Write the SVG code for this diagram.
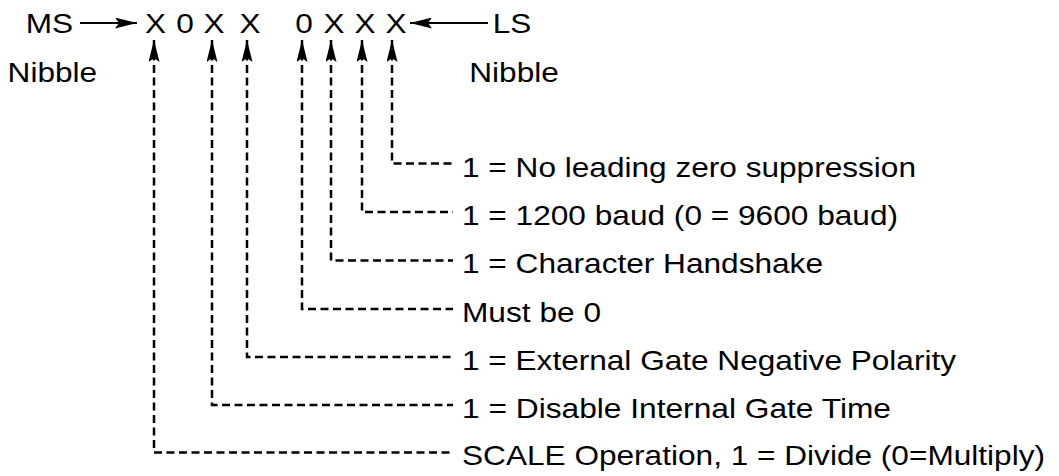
<svg xmlns="http://www.w3.org/2000/svg" width="1059" height="476" viewBox="0 0 1059 476">
<style>
text{font-family:"Liberation Sans",Arial,sans-serif;font-size:27.5px;fill:#000}
.bit{text-anchor:middle}
.solid{stroke:#000;stroke-width:2;fill:none}
.dash{stroke:#000;stroke-width:2.5;fill:none;stroke-dasharray:8 4.5}
</style>
<defs>
<marker id="ah" viewBox="0 0 22 11" refX="22" refY="5.5" markerWidth="22" markerHeight="11" markerUnits="userSpaceOnUse" orient="auto-start-reverse">
<path d="M0,0 L22,5.5 L0,11 L4,5.5 Z" fill="#000"/>
</marker>
</defs>
<rect width="1059" height="476" fill="#fff"/>
<g id="ms"><text x="25.7" y="33" textLength="47.4" lengthAdjust="spacingAndGlyphs">MS</text><text x="7.6" y="82" textLength="89.5" lengthAdjust="spacingAndGlyphs">Nibble</text></g>
<g id="ls"><text x="492.7" y="33" textLength="38.6" lengthAdjust="spacingAndGlyphs">LS</text><text x="469.3" y="82" textLength="89.5" lengthAdjust="spacingAndGlyphs">Nibble</text></g>
<g id="bits">
<text class="bit" x="155.5" y="33" textLength="21" lengthAdjust="spacingAndGlyphs">X</text>
<text class="bit" x="185" y="33" textLength="17.6" lengthAdjust="spacingAndGlyphs">0</text>
<text class="bit" x="214" y="33" textLength="21" lengthAdjust="spacingAndGlyphs">X</text>
<text class="bit" x="250" y="33" textLength="21" lengthAdjust="spacingAndGlyphs">X</text>
<text class="bit" x="304" y="33" textLength="17.6" lengthAdjust="spacingAndGlyphs">0</text>
<text class="bit" x="334" y="33" textLength="21" lengthAdjust="spacingAndGlyphs">X</text>
<text class="bit" x="365" y="33" textLength="21" lengthAdjust="spacingAndGlyphs">X</text>
<text class="bit" x="396" y="33" textLength="21" lengthAdjust="spacingAndGlyphs">X</text>
</g>
<g id="labels">
<text id="l1" x="462" y="176.5" textLength="454" lengthAdjust="spacingAndGlyphs">1 = No leading zero suppression</text>
<text id="l2" x="462" y="224.5" textLength="436" lengthAdjust="spacingAndGlyphs">1 = 1200 baud (0 = 9600 baud)</text>
<text id="l3" x="462" y="273" textLength="361" lengthAdjust="spacingAndGlyphs">1 = Character Handshake</text>
<text id="l4" x="462" y="321.5" textLength="139" lengthAdjust="spacingAndGlyphs">Must be 0</text>
<text id="l5" x="462" y="369.5" textLength="494" lengthAdjust="spacingAndGlyphs">1 = External Gate Negative Polarity</text>
<text id="l6" x="462" y="417.5" textLength="429" lengthAdjust="spacingAndGlyphs">1 = Disable Internal Gate Time</text>
<text id="l7" x="462" y="465" textLength="583" lengthAdjust="spacingAndGlyphs">SCALE Operation, 1 = Divide (0=Multiply)</text>
</g>
<g id="connectors">
<line class="solid" x1="80" y1="23" x2="137" y2="23" marker-end="url(#ah)"/>
<line class="solid" x1="488" y1="23" x2="410" y2="23" marker-end="url(#ah)"/>
<path class="dash" d="M392,40 V163.5 H453" marker-start="url(#ah)"/>
<path class="dash" d="M362,40 V212 H453" marker-start="url(#ah)"/>
<path class="dash" d="M331,40 V260.5 H453" marker-start="url(#ah)"/>
<path class="dash" d="M302,40 V309 H453" marker-start="url(#ah)"/>
<path class="dash" d="M247,40 V357 H453" marker-start="url(#ah)"/>
<path class="dash" d="M212,40 V405 H453" marker-start="url(#ah)"/>
<path class="dash" d="M154,40 V452.5 H453" marker-start="url(#ah)"/>
</g>
</svg>
